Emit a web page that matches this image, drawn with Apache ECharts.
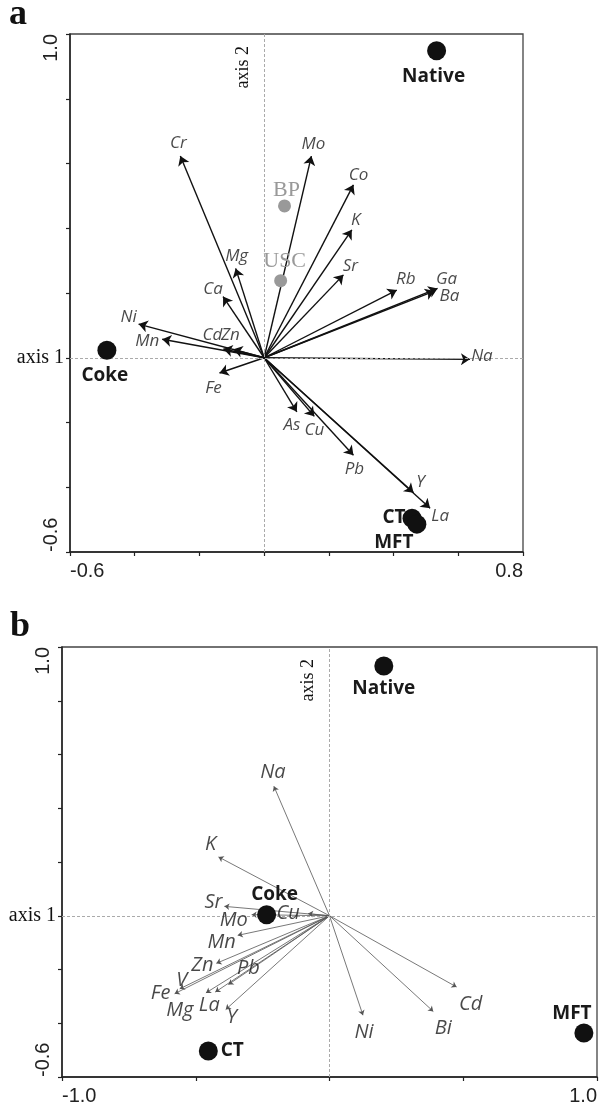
<!DOCTYPE html>
<html><head><meta charset="utf-8">
<script src="https://cdn.jsdelivr.net/npm/echarts@6/dist/echarts.min.js"></script>
<style>html,body{margin:0;padding:0;background:#fff}#c{width:600px;height:1106px}</style>
</head><body><div id="c"></div>
<script>
// ---------- Panel a : variable arrows ----------
const varsA  = ['Cr','Mo','Co','K','Sr','Mg','Ca','Rb','Ga','Ba','Ni','Mn','Cd','Zn','Fe','Na','As','Cu','Pb','Y','La'];
const axis1A = [-0.259,0.146,0.276,0.271,0.245,-0.088,-0.127,0.410,0.536,0.526,-0.388,-0.315,-0.126,-0.095,-0.138,0.636,0.101,0.155,0.276,0.462,0.513];
const axis2A = [0.623,0.623,0.534,0.395,0.256,0.276,0.189,0.209,0.214,0.206,0.104,0.057,0.027,0.026,-0.047,-0.005,-0.167,-0.181,-0.301,-0.417,-0.465];
// Panel a : sites
const sitesA     = ['Native','Coke','CT','MFT'];
const siteAxis1A = [0.533,-0.486,0.457,0.472];
const siteAxis2A = [0.948,0.023,-0.496,-0.514];
const refSitesA  = ['BP','USC'];
const refAxis1A  = [0.063,0.051];
const refAxis2A  = [0.469,0.238];
const xTickLabelsA = ['-0.6','0.8'];
const yTickLabelsA = ['-0.6','1.0'];

// ---------- Panel b : variable arrows ----------
const varsB  = ['Na','K','Sr','Mo','Cu','Mn','Zn','V','Fe','Pb','La','Mg','Y','Ni','Bi','Cd'];
const axis1B = [-0.208,-0.415,-0.393,-0.291,-0.080,-0.343,-0.423,-0.560,-0.579,-0.378,-0.427,-0.462,-0.388,0.125,0.388,0.475];
const axis2B = [0.482,0.219,0.035,0.004,0.008,-0.073,-0.177,-0.272,-0.290,-0.256,-0.284,-0.287,-0.349,-0.370,-0.356,-0.265];
// Panel b : sites
const sitesB     = ['Native','Coke','CT','MFT'];
const siteAxis1B = [0.203,-0.235,-0.453,0.951];
const siteAxis2B = [0.929,0.004,-0.503,-0.436];
const xTickLabelsB = ['-1.0','1.0'];
const yTickLabelsB = ['-0.6','1.0'];

// ---------- label placement (pixel offsets, styling only) ----------
const offA = {Cr:[-2,-13],Mo:[2,-12],Co:[5,-10],K:[4,-10],Sr:[7,-9],Mg:[1,-12],Ca:[-10,-7],Rb:[9,-11],
  Ga:[9,-9],Ba:[15,5],Ni:[-10,-7],Mn:[-15,2],Cd:[-11,-14],Zn:[-3,-14],Fe:[-6,15],Na:[12,-3],
  As:[-5,13],Cu:[0,14],Pb:[1,14],Y:[7,-11],La:[10,8]};
const siteOffA = {Native:[-3,26],Coke:[-2,25],CT:[-18,-1],MFT:[-23,18]};
const refOffA = {BP:[2,-16],USC:[4,-19]};
const offB = {Na:[-1,-14],K:[-8,-13],Sr:[-11,-4],Mo:[-18,6],Cu:[-20,0],Mn:[-16,7],Zn:[-14,2],V:[2,-9],
  Fe:[-14,0],Pb:[20,-16],La:[-6,13],Mg:[-26,17],Y:[6,8],Ni:[1,17],Bi:[10,17],Cd:[14,17]};
const siteOffB = {Native:[0,23],Coke:[8,-20],CT:[24,0],MFT:[-12,-19]};

function fmt(list){ return function(v){ const s = (Math.abs(v)<1e-9?0:v).toFixed(1); return list.indexOf(s)>=0 ? s : ''; }; }
function xAx(gi,min,max,interval,labels){
  return {type:'value',gridIndex:gi,min:min,max:max,interval:interval,
    splitLine:{show:false},
    axisLine:{onZero:false,lineStyle:{color:'#222',width:1.5}},
    axisTick:{show:true,inside:false,length:4,lineStyle:{color:'#222',width:1.2}},
    axisLabel:{margin:9,fontFamily:'Liberation Sans',fontSize:20,color:'#222',
      showMinLabel:true,showMaxLabel:true,alignMinLabel:'left',alignMaxLabel:'right',formatter:fmt(labels)}};
}
function yAx(gi,min,max,interval,labels){
  return {type:'value',gridIndex:gi,min:min,max:max,interval:interval,
    splitLine:{show:false},
    axisLine:{onZero:false,lineStyle:{color:'#222',width:1.5}},
    axisTick:{show:true,inside:false,length:4,lineStyle:{color:'#222',width:1.2}},
    axisLabel:{margin:9,rotate:90,fontFamily:'Liberation Sans',fontSize:20,color:'#222',
      showMinLabel:true,showMaxLabel:true,alignMinLabel:'left',alignMaxLabel:'right',formatter:fmt(labels)}};
}
function guide(gi){
  return {type:'scatter',xAxisIndex:gi,yAxisIndex:gi,data:[],z:1,silent:true,
    markLine:{silent:true,symbol:['none','none'],animation:false,
      lineStyle:{color:'#aaa',type:[3,2],width:1},
      emphasis:{disabled:true},
      data:[
        {yAxis:0,label:{formatter:'axis 1',position:'start',distance:6,fontFamily:'Liberation Serif',fontSize:20,color:'#111'}},
        {xAxis:0,label:{formatter:'axis 2',position:'insideEndTop',distance:12,fontFamily:'Liberation Serif',fontSize:18,color:'#111'}}
      ]}};
}
function arrows(gi,names,xs,ys,color,width,size){
  return {type:'lines',coordinateSystem:'cartesian2d',xAxisIndex:gi,yAxisIndex:gi,silent:true,z:3,
    symbol:['none','arrow'],symbolSize:size,
    lineStyle:{color:color,width:width,opacity:1,curveness:0},
    data:names.map((n,i)=>({name:n,coords:[[0,0],[xs[i],ys[i]]]}))};
}
function varLabels(gi,names,xs,ys,offs,fs){
  return {type:'scatter',xAxisIndex:gi,yAxisIndex:gi,silent:true,z:5,symbolSize:1,
    itemStyle:{color:'rgba(0,0,0,0)'},
    label:{show:true,position:'inside',formatter:'{b}',fontFamily:'Open Sans',fontStyle:'italic',fontSize:fs,color:'#1a1a1a'},
    data:names.map((n,i)=>({name:n,value:[xs[i],ys[i]],label:{offset:offs[n]}}))};
}
function sites(gi,names,xs,ys,offs,size,color,font){
  return {type:'scatter',xAxisIndex:gi,yAxisIndex:gi,silent:true,z:6,symbolSize:size,
    itemStyle:{color:color,opacity:1},
    label:Object.assign({show:true,position:'inside',formatter:'{b}'},font),
    data:names.map((n,i)=>({name:n,value:[xs[i],ys[i]],label:{offset:offs[n]}}))};
}
const boldSans = {fontFamily:'Open Sans',fontWeight:'bold',fontSize:19,color:'#1a1a1a'};
const greySerif = {fontFamily:'Liberation Serif',fontSize:22,color:'#999'};

const chart = echarts.init(document.getElementById('c'),null,{renderer:'canvas'});
chart.setOption({
  animation:false,
  backgroundColor:'#fff',
  title:[
    {text:'a',left:9,top:-3,padding:0,textStyle:{fontFamily:'Liberation Serif',fontWeight:'bold',fontSize:36,color:'#111'}},
    {text:'b',left:10,top:609,padding:0,textStyle:{fontFamily:'Liberation Serif',fontWeight:'bold',fontSize:36,color:'#111'}}
  ],
  grid:[
    {left:70,top:34,width:453,height:518,show:true,borderColor:'#444',borderWidth:1.3},
    {left:62,top:647,width:537,height:430,show:true,borderColor:'#444',borderWidth:1.3}
  ],
  xAxis:[xAx(0,-0.6,0.8,0.2,xTickLabelsA), xAx(1,-1.0,1.0,0.5,xTickLabelsB)],
  yAxis:[yAx(0,-0.6,1.0,0.2,yTickLabelsA), yAx(1,-0.6,1.0,0.2,yTickLabelsB)],
  series:[
    guide(0),
    arrows(0,varsA,axis1A,axis2A,'#111',1.4,9),
    varLabels(0,varsA,axis1A,axis2A,offA,17),
    sites(0,refSitesA,refAxis1A,refAxis2A,refOffA,13,'#999',greySerif),
    sites(0,sitesA,siteAxis1A,siteAxis2A,siteOffA,19,'#111',boldSans),
    guide(1),
    arrows(1,varsB,axis1B,axis2B,'#555',0.8,5),
    varLabels(1,varsB,axis1B,axis2B,offB,20),
    sites(1,sitesB,siteAxis1B,siteAxis2B,siteOffB,19,'#111',boldSans)
  ]
});
</script></body></html>
